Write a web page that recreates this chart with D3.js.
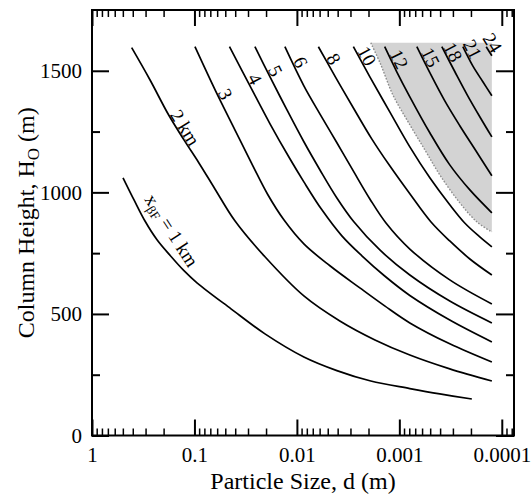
<!DOCTYPE html>
<html>
<head>
<meta charset="utf-8">
<script src="https://cdn.jsdelivr.net/npm/d3@7"></script>
<style>
body { margin: 0; background: #fff; }
text { font-family: "Liberation Serif", "Times New Roman", serif; }
</style>
</head>
<body>
<script>
// contour levels, x_BF in km
var levels = [1, 2, 3, 4, 5, 6, 8, 10, 12, 15, 18, 21, 24];

// each contour: particle size d (m) and column height H (m)
var size1 = [0.498, 0.389, 0.304, 0.232, 0.173, 0.1266, 0.0945, 0.044, 0.0205, 0.00855, 0.00407, 0.0019, 0.00079, 0.000403, 0.000196];
var height1 = [1060, 969, 882, 805, 741, 678, 628, 521, 418, 323, 267, 224, 193, 171, 150];
var size2 = [0.41, 0.272, 0.179, 0.1266, 0.0904, 0.0631, 0.0403, 0.0205, 0.00855, 0.00381, 0.00173, 0.00079, 0.000322, 0.000125];
var height2 = [1595, 1463, 1319, 1216, 1121, 1014, 883, 735, 574, 471, 393, 331, 274, 224];
var size3 = [0.0989, 0.0617, 0.0403, 0.0269, 0.0192, 0.0134, 0.00855, 0.00476, 0.00243, 0.00139, 0.00079, 0.000322, 0.000125];
var height3 = [1599, 1414, 1257, 1109, 990, 887, 788, 698, 607, 533, 463, 377, 302];
var size4 = [0.0455, 0.0287, 0.0183, 0.0117, 0.00855, 0.0057, 0.00364, 0.00232, 0.00139, 0.00079, 0.000322, 0.000125];
var height4 = [1599, 1438, 1282, 1138, 1043, 928, 821, 739, 656, 576, 475, 385];
var size5 = [0.0257, 0.0183, 0.0125, 0.00855, 0.00597, 0.00407, 0.00278, 0.00155, 0.00079, 0.000322, 0.000125];
var height5 = [1599, 1475, 1339, 1208, 1093, 977, 879, 763, 660, 553, 463];
var size6 = [0.0131, 0.00855, 0.00597, 0.00407, 0.00278, 0.00194, 0.00135, 0.00079, 0.000322, 0.000125];
var height6 = [1599, 1438, 1323, 1204, 1084, 973, 874, 767, 640, 541];
var size8 = [0.00617, 0.00416, 0.00278, 0.00186, 0.00124, 0.00079, 0.000493, 0.000322, 0.000205, 0.000125];
var height8 = [1599, 1471, 1344, 1220, 1109, 994, 879, 800, 726, 660];
var size10 = [0.00281, 0.00194, 0.00124, 0.00079, 0.000504, 0.000322, 0.00023, 0.000164, 0.000125];
var height10 = [1599, 1475, 1331, 1187, 1060, 949, 874, 817, 776];
var size12 = [0.00139, 0.00106, 0.00079, 0.000504, 0.000322, 0.000205, 0.000125];
var height12 = [1599, 1496, 1393, 1245, 1113, 1010, 916];
var size15 = [0.000675, 0.000504, 0.00036, 0.000257, 0.000179, 0.000125];
var height15 = [1599, 1492, 1376, 1274, 1171, 1068];
var size18 = [0.000385, 0.000287, 0.000215, 0.000164, 0.000125];
var height18 = [1599, 1496, 1397, 1311, 1228];
var size21 = [0.00024, 0.000192, 0.000153, 0.000125];
var height21 = [1599, 1520, 1455, 1397];
var size24 = [0.000142, 0.000125];
var height24 = [1599, 1562];

var sizes = [size1, size2, size3, size4, size5, size6, size8, size10, size12, size15, size18, size21, size24];
var heights = [height1, height2, height3, height4, height5, height6, height8, height10, height12, height15, height18, height21, height24];

// height (m) where each contour label sits
var labelHeights = [805, 1250, 1390, 1452, 1486, 1522, 1534, 1546, 1534, 1542, 1563, 1575, 1610];

// shaded region: dotted lower edge, closed at the top and at the right end of the contours
var shadeSize = [0.0019, 0.001516, 0.001157, 0.00079, 0.000564, 0.000403, 0.000257, 0.0001754, 0.000125];
var shadeHeight = [1615, 1525, 1401, 1278, 1175, 1072, 957, 879, 837];
var shadeTop = 1615;

// axes
var xMajor = [1, 0.1, 0.01, 0.001, 0.0001];
var xTickLabels = ["1", "0.1", "0.01", "0.001", "0.0001"];
var yMajor = [0, 500, 1000, 1500];
var yMinor = [250, 750, 1250];

var svg = d3.select("body").append("svg")
  .attr("width", 531)
  .attr("height", 496);

var plotLeft = 92, plotRight = 514, plotTop = 10, plotBottom = 435.5;

var x = d3.scaleLog().domain([1, 7.6e-5]).range([plotLeft, plotRight]);
var y = d3.scaleLinear().domain([0, 1750]).range([plotBottom, plotTop]);

var line = d3.line()
  .x(function(p) { return x(p[0]); })
  .y(function(p) { return y(p[1]); })
  .curve(d3.curveCatmullRom.alpha(0.5));

// gray region
var shadePts = shadeSize.map(function(d, i) { return [d, shadeHeight[i]]; });
var lastD = shadeSize[shadeSize.length - 1];
svg.append("path")
  .attr("d", line(shadePts) + "L" + x(lastD) + "," + y(shadeTop) + "Z")
  .attr("fill", "#d3d3d3")
  .attr("stroke", "none");
svg.append("path")
  .attr("d", line(shadePts))
  .attr("fill", "none")
  .attr("stroke", "#8c8c8c")
  .attr("stroke-width", 1.4)
  .attr("stroke-dasharray", "1.6,1.6");

// contours
var contours = levels.map(function(k, i) {
  return {level: k, pts: sizes[i].map(function(d, j) { return [d, heights[i][j]]; }), labelH: labelHeights[i]};
});

svg.append("g").selectAll("path")
  .data(contours)
  .enter()
  .append("path")
  .attr("d", function(c) { return line(c.pts); })
  .attr("fill", "none")
  .attr("stroke", "black")
  .attr("stroke-width", 1.7);

// find label spot along a contour (pixel space), offset to the upper right
function labelSpot(c, off) {
  var pts = c.pts.map(function(p) { return [x(p[0]), y(p[1])]; });
  var py = y(c.labelH);
  var i = 0;
  while (i < pts.length - 2 && pts[i + 1][1] < py) i++;
  var a = pts[i], b = pts[i + 1];
  var t = (py - a[1]) / (b[1] - a[1]);
  t = Math.max(0, Math.min(1, t));
  var ang = Math.atan2(b[1] - a[1], b[0] - a[0]);
  return {
    x: a[0] + t * (b[0] - a[0]) + off * Math.sin(ang),
    y: a[1] + t * (b[1] - a[1]) - off * Math.cos(ang),
    deg: ang * 180 / Math.PI
  };
}

var labels = svg.append("g").selectAll("text")
  .data(contours)
  .enter()
  .append("text")
  .attr("transform", function(c) {
    var s = labelSpot(c, c.level === 1 ? 11 : 1);
    return "translate(" + s.x + "," + s.y + ") rotate(" + s.deg + ")";
  })
  .attr("text-anchor", "middle")
  .attr("font-size", "19px")
  .attr("fill", "black");

labels.filter(function(c) { return c.level !== 1; })
  .text(function(c) { return c.level === 2 ? "2 km" : String(c.level); });

var lab1 = labels.filter(function(c) { return c.level === 1; });
lab1.append("tspan").text("x");
lab1.append("tspan").attr("font-size", "13px").attr("dy", 4).text("βF");
lab1.append("tspan").attr("dy", -4).text(" = 1 km");

// axes, ticks pointing inward
var xMinor = [];
for (var e = 1; e <= 5; e++) {
  for (var k = 2; k <= 9; k++) {
    var v = k * Math.pow(10, -e);
    if (v >= 7.6e-5) xMinor.push(v);
  }
}

function styleAxis(g, w) {
  g.select(".domain").remove();
  g.selectAll("line").attr("stroke", "black").attr("stroke-width", w);
  g.selectAll("text")
    .attr("font-family", "'Liberation Serif', 'Times New Roman', serif")
    .attr("font-size", "21px")
    .attr("fill", "black");
}

svg.append("g").attr("transform", "translate(0," + plotBottom + ")")
  .call(d3.axisBottom(x).tickValues(xMinor).tickSize(-7).tickFormat(""))
  .call(styleAxis, 1.5);
svg.append("g").attr("transform", "translate(0," + plotBottom + ")")
  .call(d3.axisBottom(x).tickValues(xMajor).tickSize(-16).tickPadding(12)
    .tickFormat(function(d, i) { return xTickLabels[i]; }))
  .call(styleAxis, 2);
svg.append("g").attr("transform", "translate(0," + plotTop + ")")
  .call(d3.axisTop(x).tickValues(xMinor).tickSize(-7).tickFormat(""))
  .call(styleAxis, 1.5);
svg.append("g").attr("transform", "translate(0," + plotTop + ")")
  .call(d3.axisTop(x).tickValues(xMajor).tickSize(-16).tickFormat(""))
  .call(styleAxis, 2);

svg.append("g").attr("transform", "translate(" + plotLeft + ",0)")
  .call(d3.axisLeft(y).tickValues(yMajor).tickSize(-17).tickPadding(10).tickFormat(d3.format("d")))
  .call(styleAxis, 2);
svg.append("g").attr("transform", "translate(" + plotLeft + ",0)")
  .call(d3.axisLeft(y).tickValues(yMinor).tickSize(-8).tickFormat(""))
  .call(styleAxis, 2);
svg.append("g").attr("transform", "translate(" + plotRight + ",0)")
  .call(d3.axisRight(y).tickValues(yMajor).tickSize(-18).tickFormat(""))
  .call(styleAxis, 2);
svg.append("g").attr("transform", "translate(" + plotRight + ",0)")
  .call(d3.axisRight(y).tickValues(yMinor).tickSize(-8).tickFormat(""))
  .call(styleAxis, 2);

// frame
svg.append("rect")
  .attr("x", plotLeft).attr("y", plotTop)
  .attr("width", plotRight - plotLeft).attr("height", plotBottom - plotTop)
  .attr("fill", "none")
  .attr("stroke", "black")
  .attr("stroke-width", 2);

// axis titles
svg.append("text")
  .attr("x", (plotLeft + plotRight) / 2)
  .attr("y", 489)
  .attr("text-anchor", "middle")
  .attr("font-size", "24px")
  .text("Particle Size, d (m)");

var yt = svg.append("text")
  .attr("transform", "translate(34," + (plotTop + plotBottom) / 2 + ") rotate(-90)")
  .attr("text-anchor", "middle")
  .attr("font-size", "24px");
yt.append("tspan").text("Column Height, H");
yt.append("tspan").attr("font-size", "17px").attr("dy", 5).text("O");
yt.append("tspan").attr("dy", -5).text(" (m)");
</script>
</body>
</html>
